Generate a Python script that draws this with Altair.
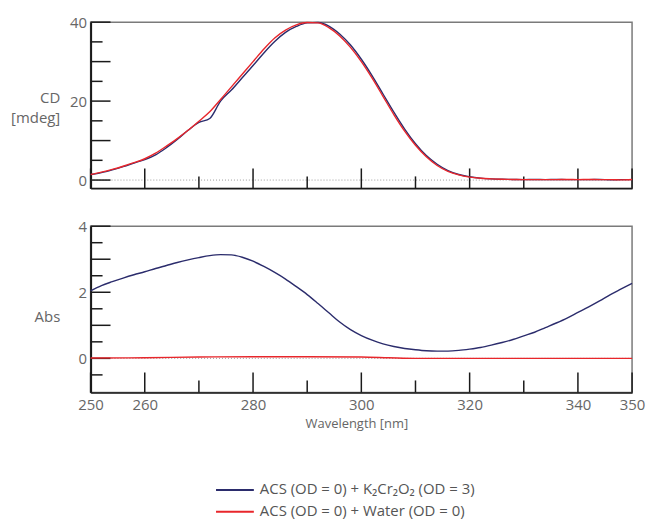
import altair as alt
import pandas as pd

# ---------------- data ----------------
series_names = ["ACS (OD = 0) + K\u2082Cr\u2082O\u2082 (OD = 3)", "ACS (OD = 0) + Water (OD = 0)"]
series_colors = ["#2b2c6c", "#e8262b"]

wl_cd = list(range(250, 351, 2))
cd_k2 = [1.4, 1.9, 2.6, 3.4, 4.3, 5.2, 6.4, 8.2, 10.3, 12.6, 14.6, 15.6, 20.0, 22.8, 25.9,
         29.0, 32.2, 35.1, 37.4, 38.9, 39.8, 39.9, 39.0, 37.0, 34.2, 30.6, 26.4, 21.8, 17.2,
         12.9, 9.2, 6.2, 4.0, 2.4, 1.4, 0.85, 0.5, 0.3, 0.2, 0.15, 0.1, 0.15, 0.1, 0.15, 0.1,
         0.12, 0.1, 0.15, 0.05, 0.1, 0.1]
cd_water = [1.4, 2.0, 2.7, 3.5, 4.4, 5.4, 6.8, 8.6, 10.5, 12.6, 14.9, 17.3, 20.4, 23.6, 26.8,
            30.0, 33.2, 36.0, 38.0, 39.3, 39.9, 39.8, 38.6, 36.5, 33.6, 30.0, 25.8, 21.2, 16.6,
            12.4, 8.8, 5.9, 3.7, 2.2, 1.3, 0.75, 0.45, 0.3, 0.2, 0.15, 0.1, 0.1, 0.12, 0.1, 0.15,
            0.1, 0.15, 0.1, 0.1, 0.05, 0.15]

wl_abs = list(range(250, 351, 2))
abs_k2 = [2.04, 2.20, 2.32, 2.43, 2.53, 2.62, 2.72, 2.81, 2.90, 2.98, 3.05, 3.11, 3.14, 3.13,
          3.06, 2.94, 2.78, 2.60, 2.40, 2.17, 1.93, 1.66, 1.38, 1.10, 0.87, 0.69, 0.55, 0.44,
          0.36, 0.30, 0.26, 0.23, 0.22, 0.22, 0.24, 0.28, 0.33, 0.40, 0.48, 0.57, 0.68, 0.79,
          0.93, 1.07, 1.22, 1.39, 1.56, 1.74, 1.93, 2.10, 2.27]
wl_abs_water = [250, 260, 270, 280, 290, 300, 305, 310, 320, 330, 340, 350]
abs_water = [0.01, 0.02, 0.04, 0.05, 0.05, 0.04, 0.02, 0.0, 0.0, 0.0, 0.0, 0.0]

x_domain = [250, 350]
x_labels = [250, 260, 280, 300, 320, 340, 350]
x_major = [250, 260, 280, 300, 320, 340, 350]
x_minor = [270, 290, 310, 330]

cd_domain = [-2.1, 40]
cd_labels = [0, 20, 40]
cd_major = [0, 10, 20, 30, 40]
cd_minor = [5, 15, 25, 35]

abs_domain = [-1.03, 4]
abs_labels = [0, 2, 4]
abs_major = [0, 1, 2, 3, 4]
abs_minor = [-0.5, 0.5, 1.5, 2.5, 3.5]

# ---------------- layout constants ----------------
W = 544
H = 167
TEXT = "#666666"
INK = "#1a1a1a"
FONT = "Open Sans"

cd_df = pd.DataFrame({
    "wl": wl_cd + wl_cd,
    "val": cd_k2 + cd_water,
    "series": [series_names[0]] * len(wl_cd) + [series_names[1]] * len(wl_cd),
    "ord": [0] * len(wl_cd) + [1] * len(wl_cd),
})
abs_df = pd.DataFrame({
    "wl": wl_abs + wl_abs_water,
    "val": abs_k2 + abs_water,
    "series": [series_names[0]] * len(wl_abs) + [series_names[1]] * len(wl_abs_water),
    "ord": [0] * len(wl_abs) + [1] * len(wl_abs_water),
})
legend_df = pd.DataFrame({"series": series_names})

color = alt.Color("series:N", scale=alt.Scale(domain=series_names, range=series_colors),
                  legend=None)


def panel(df, ydomain, ylabels, ymajor, yminor, ytitle, title_y, bottom):
    xs = alt.Scale(domain=x_domain, nice=False, zero=False)
    ys = alt.Scale(domain=ydomain, nice=False, zero=False)
    if bottom:
        xaxis = alt.Axis(values=x_labels, ticks=False, grid=False, labelFontSize=15,
                         labelColor=TEXT, labelPadding=5, domainColor=INK, domainWidth=1.5,
                         title="Wavelength [nm]", titleFontSize=13, titleColor=TEXT,
                         titleFontWeight="normal", titlePadding=5, labelFlush=False,
                         titleX=267)
    else:
        xaxis = alt.Axis(labels=False, ticks=False, grid=False, domainColor=INK,
                         domainWidth=1.5, title=None)
    yaxis = alt.Axis(values=ylabels, ticks=False, grid=False, labelFontSize=15,
                     labelColor=TEXT, labelPadding=4, domainColor=INK, domainWidth=2,
                     title=ytitle, titleAngle=0, titleAlign="right",
                     titleBaseline="alphabetic", titleX=-31, titleY=title_y,
                     titleFontSize=15, titleColor=TEXT, titleFontWeight="normal",
                     titleLineHeight=20)
    X = lambda f: alt.X(f, scale=xs, axis=xaxis)
    Y = lambda f: alt.Y(f, scale=ys, axis=yaxis)

    zero = alt.Chart(pd.DataFrame({"v": [0]})).mark_rule(
        color="#9a9a9a", strokeWidth=1, strokeDash=[1, 2]
    ).encode(y=Y("v:Q"))

    lines = alt.Chart(df).mark_line(strokeWidth=1.4, interpolate="monotone").encode(
        x=X("wl:Q"),
        y=Y("val:Q"),
        color=color,
        detail="ord:N",
        order="wl:Q",
    )

    ymaj = alt.Chart(pd.DataFrame({"v": ymajor})).mark_rule(color=INK, strokeWidth=1.5).encode(
        y=Y("v:Q"), x=alt.value(0), x2=alt.value(20))
    ymin = alt.Chart(pd.DataFrame({"v": yminor})).mark_rule(color=INK, strokeWidth=1.5).encode(
        y=Y("v:Q"), x=alt.value(0), x2=alt.value(12))
    xmaj = alt.Chart(pd.DataFrame({"v": x_major})).mark_rule(color=INK, strokeWidth=1.5).encode(
        x=X("v:Q"), y=alt.value(H), y2=alt.value(H - 20))
    xmin = alt.Chart(pd.DataFrame({"v": x_minor})).mark_rule(color=INK, strokeWidth=1.5).encode(
        x=X("v:Q"), y=alt.value(H), y2=alt.value(H - 12))

    return alt.layer(zero, ymaj, ymin, xmaj, xmin, lines).properties(width=W, height=H)


top = panel(cd_df, cd_domain, cd_labels, cd_major, cd_minor, ["CD", "[mdeg]"], 81, False)
bot = panel(abs_df, abs_domain, abs_labels, abs_major, abs_minor, "Abs", 96, True)

# legend drawn as its own small panel under the plots
LEG_H = 82
ly = alt.Y("series:N", axis=None,
           scale=alt.Scale(type="point", domain=series_names, range=[60, 82], padding=0))
leg_sym = alt.Chart(legend_df).mark_rule(strokeWidth=2).encode(
    y=ly, x=alt.value(126), x2=alt.value(164), color=color)
leg_txt = alt.Chart(legend_df).mark_text(
    align="left", baseline="middle", fontSize=15, font=FONT, color="#555555", dy=-1
).encode(y=ly, x=alt.value(170), text="series:N")
legend = alt.layer(leg_sym, leg_txt).properties(
    width=W, height=LEG_H, view=alt.ViewBackground(strokeOpacity=0))

chart = alt.vconcat(top, bot, legend, spacing=38, bounds="flush").properties(
    padding={"left": 1, "top": 5, "right": 0, "bottom": 0}
).configure(font=FONT).configure_view(stroke="#7a7a7a", strokeWidth=1.5)

chart.save("out.html", embed_options={"renderer": "svg", "actions": False})
